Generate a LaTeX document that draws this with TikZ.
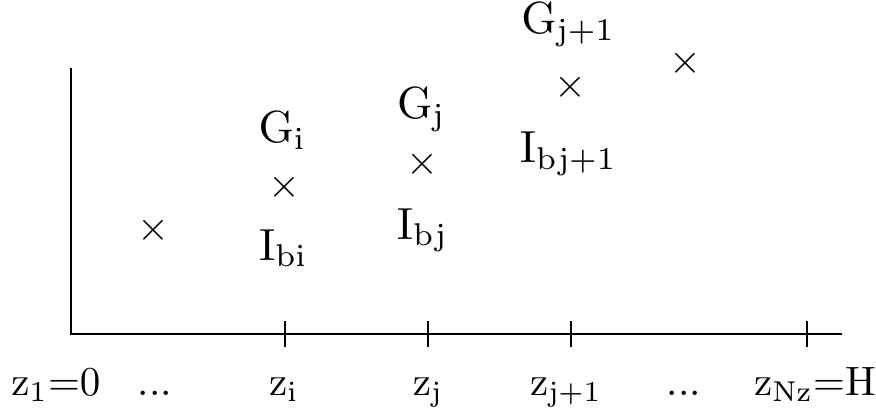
\documentclass[tikz,border=0pt]{standalone}
\usepackage{graphicx}
\newcommand{\upsc}[1]{\scalebox{2.25}{\fontsize{10}{12}\selectfont #1}}
\newcommand{\losc}[1]{\scalebox{2.05}{\fontsize{10}{12}\selectfont #1}}
\begin{document}
\begin{tikzpicture}[x=0.5pt,y=-0.5pt,
  lbl/.style={inner sep=0pt,anchor=base},
  crossmark/.style={inner sep=0pt},
  axisline/.style={line width=1pt},
  tickline/.style={line width=0.75pt}]
\useasboundingbox (0,0) rectangle (876,408);
% axes
\coordinate (top) at (71,68);
\coordinate (origin) at (71,334);
\coordinate (xend) at (842,334);
\draw[axisline] (top) -- (origin) -- (xend);
% ticks
\foreach \n/\x in {ti/285,tj/428,tk/571,tn/807}{
  \coordinate (\n a) at (\x,321);
  \coordinate (\n b) at (\x,347);
  \draw[tickline] (\n a) -- (\n b);
}
% crosses
\node[crossmark] (c0) at (153,230) {\losc{$\times$}};
\node[crossmark] (c1) at (284,187) {\losc{$\times$}};
\node[crossmark] (c2) at (422,164) {\losc{$\times$}};
\node[crossmark] (c3) at (570,87) {\losc{$\times$}};
\node[crossmark] (c4) at (685,63) {\losc{$\times$}};
% upper labels
\node[lbl] (Gi) at (282.5,142.5) {\upsc{$\mathrm{G}_{\mathrm{i}}$}};
\node[lbl] (Ibi) at (283.5,260) {\upsc{$\mathrm{I}_{\mathrm{bi}}$}};
\node[lbl] (Gj) at (421.5,118.5) {\upsc{$\mathrm{G}_{\mathrm{j}}$}};
\node[lbl] (Ibj) at (422.5,239) {\upsc{$\mathrm{I}_{\mathrm{bj}}$}};
\node[lbl] (Gk) at (568.5,33.5) {\upsc{$\mathrm{G}_{\mathrm{j+1}}$}};
\node[lbl] (Ibk) at (568.5,162.5) {\upsc{$\mathrm{I}_{\mathrm{bj+1}}$}};
% bottom labels
\node[lbl] (z1) at (56,395.5) {\losc{$\mathrm{z}_{1}{=}0$}};
\node[lbl] (d1) at (155,395.5) {\losc{...}};
\node[lbl] (zi) at (284,395.5) {\losc{$\mathrm{z}_{\mathrm{i}}$}};
\node[lbl] (zj) at (428,395.5) {\losc{$\mathrm{z}_{\mathrm{j}}$}};
\node[lbl] (zk) at (566,395.5) {\losc{$\mathrm{z}_{\mathrm{j+1}}$}};
\node[lbl] (d2) at (684,395.5) {\losc{...}};
\node[lbl] (zn) at (815,395.5) {\losc{$\mathrm{z}_{\mathrm{Nz}}{=}\mathrm{H}$}};
\end{tikzpicture}
\end{document}
